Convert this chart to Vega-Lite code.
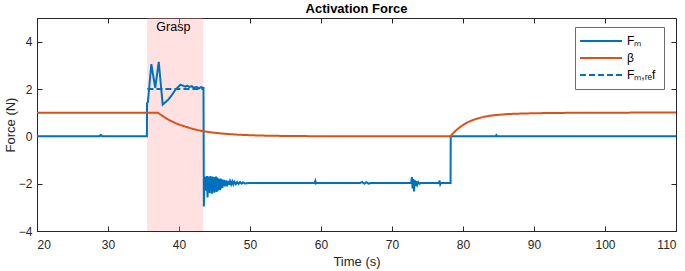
{
  "$schema": "https://vega.github.io/schema/vega-lite/v6.json",
  "width": 639,
  "height": 213,
  "autosize": {"type": "none"},
  "padding": {"left": 37, "top": 18, "right": 9, "bottom": 40},
  "background": "white",
  "title": {"text": "Activation Force", "font": "Liberation Sans", "fontSize": 13, "fontWeight": "bold", "color": "#000000", "offset": 2},
  "config": {
    "view": {"stroke": "#262626", "strokeWidth": 1},
    "axis": {
      "labelFont": "Liberation Sans", "titleFont": "Liberation Sans",
      "labelFontSize": 12, "titleFontSize": 13, "titleFontWeight": "normal",
      "labelColor": "#262626", "titleColor": "#262626",
      "domainColor": "#262626", "tickColor": "#262626",
      "gridColor": "#E2E2E2", "tickSize": -5, "labelPadding": 10
    },
    "legend": {
      "orient": "none", "legendX": 538, "legendY": 9,
      "title": null, "symbolType": "M-10.5,0H10.5", "symbolSize": 16, "symbolStrokeWidth": 2, "symbolOffset": 12,
      "labelFont": "Liberation Sans", "labelFontSize": 12, "labelColor": "#000000",
      "strokeColor": "#6b6b6b", "fillColor": "white", "padding": 8, "rowPadding": 5, "labelOffset": 20
    }
  },
  "datasets": {
    "grasp": [{"start": 35.5, "end": 43.4, "label": "Grasp"}],
    "lines": [
      {"t": 20, "v": 0, "s": "Fₘ"},
      {"t": 28.8, "v": 0, "s": "Fₘ"},
      {"t": 29.0, "v": 0.06, "s": "Fₘ"},
      {"t": 29.2, "v": 0, "s": "Fₘ"},
      {"t": 35.48, "v": 0, "s": "Fₘ"},
      {"t": 35.5, "v": 1.4, "s": "Fₘ"},
      {"t": 35.62, "v": 1.45, "s": "Fₘ"},
      {"t": 36.1, "v": 3.05, "s": "Fₘ"},
      {"t": 36.65, "v": 2.05, "s": "Fₘ"},
      {"t": 37.15, "v": 3.15, "s": "Fₘ"},
      {"t": 37.7, "v": 1.34, "s": "Fₘ"},
      {"t": 38.0, "v": 1.42, "s": "Fₘ"},
      {"t": 38.55, "v": 1.57, "s": "Fₘ"},
      {"t": 39.0, "v": 1.75, "s": "Fₘ"},
      {"t": 39.5, "v": 1.97, "s": "Fₘ"},
      {"t": 40.2, "v": 2.18, "s": "Fₘ"},
      {"t": 40.5, "v": 2.15, "s": "Fₘ"},
      {"t": 40.9, "v": 2.1, "s": "Fₘ"},
      {"t": 41.2, "v": 2.14, "s": "Fₘ"},
      {"t": 41.5, "v": 2.08, "s": "Fₘ"},
      {"t": 41.8, "v": 2.12, "s": "Fₘ"},
      {"t": 42.1, "v": 2.05, "s": "Fₘ"},
      {"t": 42.5, "v": 2.08, "s": "Fₘ"},
      {"t": 42.8, "v": 2.02, "s": "Fₘ"},
      {"t": 43.1, "v": 2.08, "s": "Fₘ"},
      {"t": 43.45, "v": 2.05, "s": "Fₘ"},
      {"t": 43.5, "v": -2.96, "s": "Fₘ"},
      {"t": 43.6, "v": -1.72, "s": "Fₘ"},
      {"t": 43.7, "v": -2.3, "s": "Fₘ"},
      {"t": 43.78, "v": -1.7, "s": "Fₘ"},
      {"t": 43.86, "v": -2.3, "s": "Fₘ"},
      {"t": 43.94, "v": -1.68, "s": "Fₘ"},
      {"t": 44.02, "v": -2.58, "s": "Fₘ"},
      {"t": 44.1, "v": -1.7, "s": "Fₘ"},
      {"t": 44.18, "v": -2.35, "s": "Fₘ"},
      {"t": 44.26, "v": -1.75, "s": "Fₘ"},
      {"t": 44.34, "v": -2.4, "s": "Fₘ"},
      {"t": 44.42, "v": -1.68, "s": "Fₘ"},
      {"t": 44.5, "v": -2.3, "s": "Fₘ"},
      {"t": 44.58, "v": -1.72, "s": "Fₘ"},
      {"t": 44.66, "v": -2.42, "s": "Fₘ"},
      {"t": 44.74, "v": -1.7, "s": "Fₘ"},
      {"t": 44.82, "v": -2.3, "s": "Fₘ"},
      {"t": 44.9, "v": -1.75, "s": "Fₘ"},
      {"t": 44.98, "v": -2.38, "s": "Fₘ"},
      {"t": 45.06, "v": -1.72, "s": "Fₘ"},
      {"t": 45.14, "v": -2.32, "s": "Fₘ"},
      {"t": 45.22, "v": -1.7, "s": "Fₘ"},
      {"t": 45.3, "v": -2.35, "s": "Fₘ"},
      {"t": 45.38, "v": -1.74, "s": "Fₘ"},
      {"t": 45.46, "v": -2.3, "s": "Fₘ"},
      {"t": 45.54, "v": -1.78, "s": "Fₘ"},
      {"t": 45.62, "v": -2.25, "s": "Fₘ"},
      {"t": 45.7, "v": -1.8, "s": "Fₘ"},
      {"t": 45.78, "v": -2.28, "s": "Fₘ"},
      {"t": 45.86, "v": -1.78, "s": "Fₘ"},
      {"t": 45.94, "v": -2.2, "s": "Fₘ"},
      {"t": 46.02, "v": -1.82, "s": "Fₘ"},
      {"t": 46.1, "v": -2.18, "s": "Fₘ"},
      {"t": 46.18, "v": -1.85, "s": "Fₘ"},
      {"t": 46.26, "v": -2.1, "s": "Fₘ"},
      {"t": 46.34, "v": -1.84, "s": "Fₘ"},
      {"t": 46.42, "v": -2.12, "s": "Fₘ"},
      {"t": 46.5, "v": -1.88, "s": "Fₘ"},
      {"t": 46.58, "v": -2.06, "s": "Fₘ"},
      {"t": 46.66, "v": -1.86, "s": "Fₘ"},
      {"t": 46.74, "v": -2.12, "s": "Fₘ"},
      {"t": 46.82, "v": -1.9, "s": "Fₘ"},
      {"t": 46.9, "v": -2.05, "s": "Fₘ"},
      {"t": 47.0, "v": -1.88, "s": "Fₘ"},
      {"t": 47.1, "v": -2.05, "s": "Fₘ"},
      {"t": 47.2, "v": -1.9, "s": "Fₘ"},
      {"t": 47.35, "v": -2.03, "s": "Fₘ"},
      {"t": 47.5, "v": -1.9, "s": "Fₘ"},
      {"t": 47.65, "v": -2.03, "s": "Fₘ"},
      {"t": 47.8, "v": -1.92, "s": "Fₘ"},
      {"t": 48.0, "v": -2.02, "s": "Fₘ"},
      {"t": 48.2, "v": -1.93, "s": "Fₘ"},
      {"t": 48.4, "v": -2.01, "s": "Fₘ"},
      {"t": 48.6, "v": -1.93, "s": "Fₘ"},
      {"t": 48.8, "v": -2.0, "s": "Fₘ"},
      {"t": 49.0, "v": -1.95, "s": "Fₘ"},
      {"t": 49.3, "v": -1.99, "s": "Fₘ"},
      {"t": 50.0, "v": -1.97, "s": "Fₘ"},
      {"t": 59.1, "v": -1.97, "s": "Fₘ"},
      {"t": 59.2, "v": -1.88, "s": "Fₘ"},
      {"t": 59.3, "v": -1.99, "s": "Fₘ"},
      {"t": 59.4, "v": -1.97, "s": "Fₘ"},
      {"t": 65.5, "v": -1.97, "s": "Fₘ"},
      {"t": 65.8, "v": -1.93, "s": "Fₘ"},
      {"t": 66.1, "v": -2.0, "s": "Fₘ"},
      {"t": 66.4, "v": -1.94, "s": "Fₘ"},
      {"t": 66.7, "v": -2.0, "s": "Fₘ"},
      {"t": 67.0, "v": -1.97, "s": "Fₘ"},
      {"t": 72.7, "v": -1.97, "s": "Fₘ"},
      {"t": 72.8, "v": -1.72, "s": "Fₘ"},
      {"t": 72.9, "v": -2.2, "s": "Fₘ"},
      {"t": 73.0, "v": -1.8, "s": "Fₘ"},
      {"t": 73.1, "v": -2.33, "s": "Fₘ"},
      {"t": 73.2, "v": -1.85, "s": "Fₘ"},
      {"t": 73.3, "v": -2.1, "s": "Fₘ"},
      {"t": 73.4, "v": -1.9, "s": "Fₘ"},
      {"t": 73.55, "v": -2.05, "s": "Fₘ"},
      {"t": 73.7, "v": -1.93, "s": "Fₘ"},
      {"t": 73.9, "v": -2.0, "s": "Fₘ"},
      {"t": 74.1, "v": -1.97, "s": "Fₘ"},
      {"t": 76.6, "v": -1.97, "s": "Fₘ"},
      {"t": 76.7, "v": -1.87, "s": "Fₘ"},
      {"t": 76.8, "v": -2.03, "s": "Fₘ"},
      {"t": 76.9, "v": -1.97, "s": "Fₘ"},
      {"t": 78.25, "v": -1.97, "s": "Fₘ"},
      {"t": 78.27, "v": 0, "s": "Fₘ"},
      {"t": 84.6, "v": 0, "s": "Fₘ"},
      {"t": 84.7, "v": 0.05, "s": "Fₘ"},
      {"t": 84.8, "v": 0, "s": "Fₘ"},
      {"t": 110, "v": 0, "s": "Fₘ"},
      {"t": 20, "v": 1.0, "s": "β"},
      {"t": 37.0, "v": 1.0, "s": "β"},
      {"t": 37.5, "v": 0.9, "s": "β"},
      {"t": 38.0, "v": 0.8, "s": "β"},
      {"t": 38.5, "v": 0.71, "s": "β"},
      {"t": 39.0, "v": 0.63, "s": "β"},
      {"t": 39.5, "v": 0.56, "s": "β"},
      {"t": 40.0, "v": 0.5, "s": "β"},
      {"t": 41.0, "v": 0.4, "s": "β"},
      {"t": 42.0, "v": 0.31, "s": "β"},
      {"t": 43.0, "v": 0.24, "s": "β"},
      {"t": 44.0, "v": 0.19, "s": "β"},
      {"t": 45.0, "v": 0.15, "s": "β"},
      {"t": 46.0, "v": 0.12, "s": "β"},
      {"t": 47.0, "v": 0.095, "s": "β"},
      {"t": 48.0, "v": 0.075, "s": "β"},
      {"t": 50.0, "v": 0.047, "s": "β"},
      {"t": 52.0, "v": 0.03, "s": "β"},
      {"t": 55.0, "v": 0.015, "s": "β"},
      {"t": 60.0, "v": 0.005, "s": "β"},
      {"t": 70.0, "v": 0.001, "s": "β"},
      {"t": 78.25, "v": 0.0, "s": "β"},
      {"t": 78.5, "v": 0.1, "s": "β"},
      {"t": 79.0, "v": 0.25, "s": "β"},
      {"t": 79.5, "v": 0.37, "s": "β"},
      {"t": 80.0, "v": 0.48, "s": "β"},
      {"t": 80.5, "v": 0.57, "s": "β"},
      {"t": 81.0, "v": 0.64, "s": "β"},
      {"t": 81.5, "v": 0.7, "s": "β"},
      {"t": 82.0, "v": 0.75, "s": "β"},
      {"t": 83.0, "v": 0.83, "s": "β"},
      {"t": 84.0, "v": 0.88, "s": "β"},
      {"t": 85.0, "v": 0.91, "s": "β"},
      {"t": 86.0, "v": 0.935, "s": "β"},
      {"t": 87.0, "v": 0.95, "s": "β"},
      {"t": 88.0, "v": 0.96, "s": "β"},
      {"t": 90.0, "v": 0.975, "s": "β"},
      {"t": 92.0, "v": 0.985, "s": "β"},
      {"t": 95.0, "v": 0.993, "s": "β"},
      {"t": 100.0, "v": 1.0, "s": "β"},
      {"t": 110.0, "v": 1.005, "s": "β"},
      {"t": 35.55, "v": 2.0, "s": "Fₘ,ᵣₑf"},
      {"t": 43.45, "v": 2.0, "s": "Fₘ,ᵣₑf"}
    ]
  },
  "resolve": {"axis": {"x": "independent", "y": "independent"}},
  "layer": [
    {
      "data": {"name": "grasp"},
      "mark": {"type": "rect", "color": "#FF9AA0", "opacity": 0.3},
      "encoding": {
        "x": {"field": "start", "type": "quantitative", "scale": {"domain": [20, 110], "nice": false, "zero": false}, "axis": null},
        "x2": {"field": "end"}
      }
    },
    {
      "data": {"name": "grasp"},
      "mark": {"type": "text", "font": "Liberation Sans", "fontSize": 12.5, "color": "#000000", "align": "center", "baseline": "middle"},
      "encoding": {
        "x": {"datum": 39.2, "type": "quantitative", "axis": null},
        "y": {"datum": 4.62, "type": "quantitative", "axis": null},
        "text": {"field": "label"}
      }
    },
    {
      "data": {"name": "grasp"},
      "mark": {"type": "point", "opacity": 0},
      "encoding": {
        "x": {"field": "start", "type": "quantitative", "axis": {"orient": "top", "values": [20, 30, 40, 50, 60, 70, 80, 90, 100, 110], "labels": false, "grid": false, "domain": false, "title": null}},
        "y": {"datum": 0, "type": "quantitative", "axis": {"orient": "right", "values": [-4, -2, 0, 2, 4], "labels": false, "grid": false, "domain": false, "title": null}}
      }
    },
    {
      "data": {"name": "lines"},
      "mark": {"type": "line", "strokeWidth": 2, "clip": true},
      "encoding": {
        "x": {"field": "t", "type": "quantitative", "scale": {"domain": [20, 110], "nice": false, "zero": false},
              "axis": {"orient": "bottom", "title": "Time (s)", "values": [20, 30, 40, 50, 60, 70, 80, 90, 100, 110], "labelPadding": 13, "titlePadding": 5}},
        "y": {"field": "v", "type": "quantitative", "scale": {"domain": [-4, 5], "nice": false, "zero": false},
              "axis": {"orient": "left", "title": "Force (N)", "values": [-4, -2, 0, 2, 4], "titlePadding": 1}},
        "color": {"field": "s", "type": "nominal", "sort": null,
                  "scale": {"domain": ["Fₘ", "β", "Fₘ,ᵣₑf"], "range": ["#0072BD", "#D95319", "#0072BD"]}},
        "strokeDash": {"field": "s", "type": "nominal", "sort": null,
                  "scale": {"domain": ["Fₘ", "β", "Fₘ,ᵣₑf"], "range": [[1, 0], [1, 0], [6, 3]]}}
      }
    }
  ]
}
